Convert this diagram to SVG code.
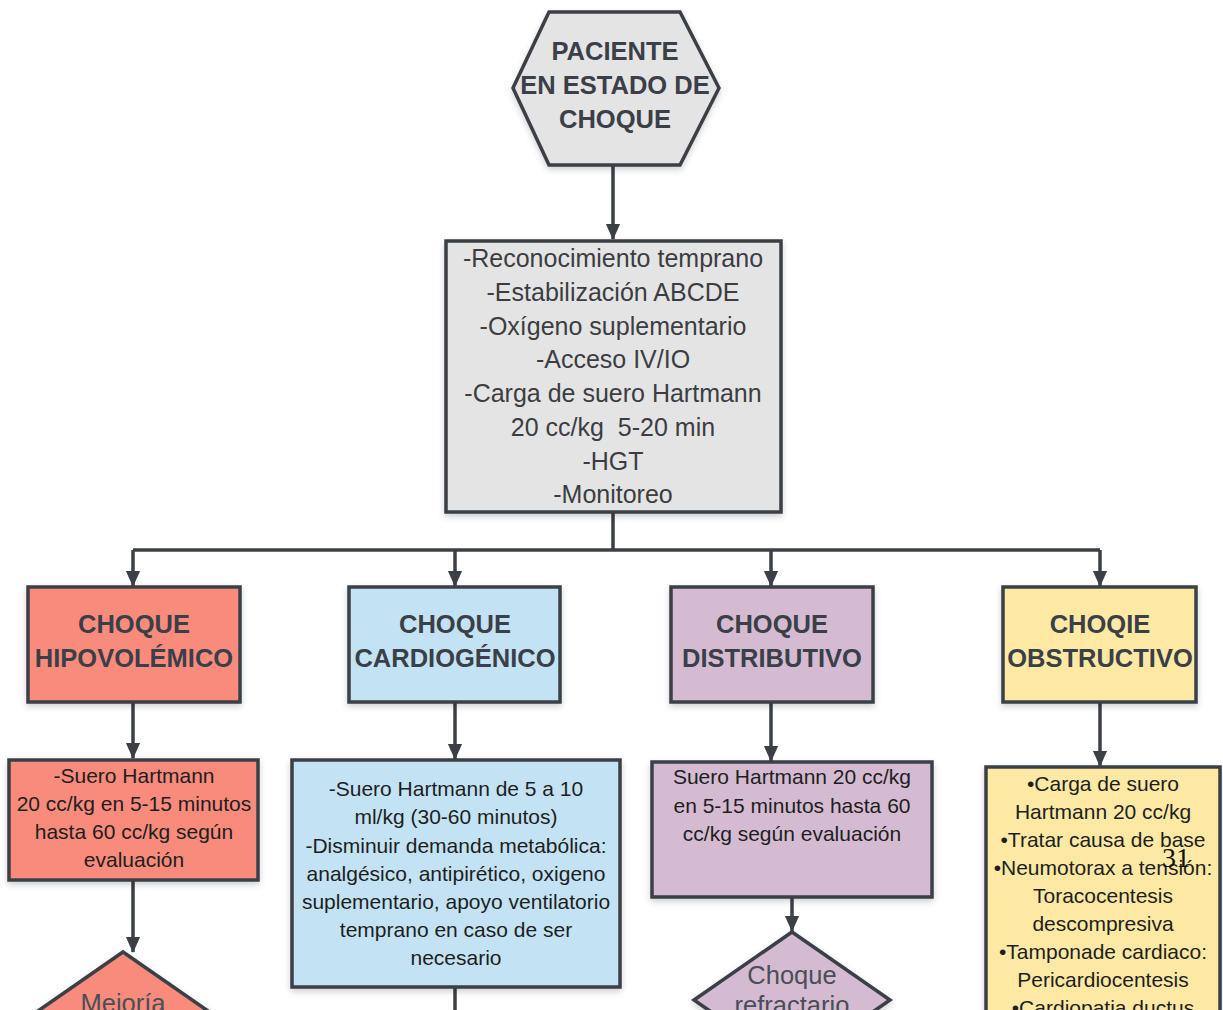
<svg xmlns="http://www.w3.org/2000/svg" width="1223" height="1010" viewBox="0 0 1223 1010">
  <defs>
    <marker id="head" markerUnits="userSpaceOnUse" markerWidth="16" markerHeight="16" refX="17" refY="8" orient="auto" viewBox="0 0 18 16">
      <path d="M0,0 L18,8 L0,16 Z" fill="#3b3f46"/>
    </marker>
    <filter id="shadow" x="-10%" y="-10%" width="120%" height="125%">
      <feDropShadow dx="0" dy="3" stdDeviation="3" flood-color="#000" flood-opacity="0.18"/>
    </filter>
  </defs>
  <style>
    .shape { stroke: #3b3f46; stroke-width: 3.5; filter: url(#shadow); }
    .grey { fill: #e4e4e4; }
    .red { fill: #f98b7b; }
    .blue { fill: #c3e3f5; }
    .purple { fill: #d4bbd2; }
    .yellow { fill: #fde9a4; }
    .title { font-family: "Liberation Sans", Arial, sans-serif; font-weight: bold; font-size: 25.5px; fill: #3a3f48; text-anchor: middle; dominant-baseline: central; }
    .main { font-family: "Liberation Sans", Arial, sans-serif; font-size: 25px; fill: #3b3d42; text-anchor: middle; dominant-baseline: central; }
    .body { font-family: "Liberation Sans", Arial, sans-serif; font-size: 21px; fill: #1e1e1e; text-anchor: middle; dominant-baseline: central; }
    .dia { font-family: "Liberation Sans", Arial, sans-serif; font-size: 25.5px; fill: #4a4e55; text-anchor: middle; dominant-baseline: central; }
    .link { stroke: #3b3f46; stroke-width: 3.5; fill: none; }
    .pagenum { font-family: "Liberation Serif", "Times New Roman", serif; font-size: 28px; fill: #111; }
  </style>

  <!-- connectors -->
  <g id="connectors">
    <path class="link" d="M613,165 V239" marker-end="url(#head)"/>
    <path class="link" d="M613,512 V550"/>
    <path class="link" d="M133,550 H1100"/>
    <path class="link" d="M133,550 V586" marker-end="url(#head)"/>
    <path class="link" d="M455,550 V586" marker-end="url(#head)"/>
    <path class="link" d="M771,550 V586" marker-end="url(#head)"/>
    <path class="link" d="M1100,550 V586" marker-end="url(#head)"/>
    <path class="link" d="M133,702 V758" marker-end="url(#head)"/>
    <path class="link" d="M455,702 V759" marker-end="url(#head)"/>
    <path class="link" d="M771,702 V761" marker-end="url(#head)"/>
    <path class="link" d="M1100,702 V766" marker-end="url(#head)"/>
    <path class="link" d="M133,880 V952" marker-end="url(#head)"/>
    <path class="link" d="M455,987 V1012"/>
    <path class="link" d="M792,897 V931" marker-end="url(#head)"/>
  </g>

  <!-- start node -->
  <g id="start">
    <polygon class="shape grey" points="549,12 680,12 719,88 680,165 549,165 513,88"/>
    <text class="title" x="615" y="51">PACIENTE</text>
    <text class="title" x="615" y="85">EN ESTADO DE</text>
    <text class="title" x="615" y="119">CHOQUE</text>
  </g>

  <!-- initial management -->
  <g id="initial">
    <rect class="shape grey" x="446" y="241" width="335" height="271"/>
    <text class="main" x="613" y="258">-Reconocimiento temprano</text>
    <text class="main" x="613" y="292">-Estabilización ABCDE</text>
    <text class="main" x="613" y="326">-Oxígeno suplementario</text>
    <text class="main" x="613" y="359">-Acceso IV/IO</text>
    <text class="main" x="613" y="393">-Carga de suero Hartmann</text>
    <text class="main" x="613" y="427" xml:space="preserve">20 cc/kg  5-20 min</text>
    <text class="main" x="613" y="461">-HGT</text>
    <text class="main" x="613" y="494">-Monitoreo</text>
  </g>

  <!-- shock types -->
  <g id="hipovolemico">
    <rect class="shape red" x="28" y="587" width="212" height="115"/>
    <text class="title" x="134" y="624">CHOQUE</text>
    <text class="title" x="134" y="658">HIPOVOLÉMICO</text>
  </g>
  <g id="cardiogenico">
    <rect class="shape blue" x="349" y="587" width="211" height="115"/>
    <text class="title" x="455" y="624">CHOQUE</text>
    <text class="title" x="455" y="658">CARDIOGÉNICO</text>
  </g>
  <g id="distributivo">
    <rect class="shape purple" x="671" y="587" width="202" height="115"/>
    <text class="title" x="772" y="624">CHOQUE</text>
    <text class="title" x="772" y="658">DISTRIBUTIVO</text>
  </g>
  <g id="obstructivo">
    <rect class="shape yellow" x="1003" y="587" width="193" height="115"/>
    <text class="title" x="1100" y="624">CHOQIE</text>
    <text class="title" x="1100" y="658">OBSTRUCTIVO</text>
  </g>

  <!-- treatments -->
  <g id="tx-hipovolemico">
    <rect class="shape red" x="9" y="760" width="249" height="120"/>
    <text class="body" x="134" y="775">-Suero Hartmann</text>
    <text class="body" x="134" y="803">20 cc/kg en 5-15 minutos</text>
    <text class="body" x="134" y="831">hasta 60 cc/kg según</text>
    <text class="body" x="134" y="859">evaluación</text>
  </g>
  <g id="tx-cardiogenico">
    <rect class="shape blue" x="292" y="760" width="328" height="227"/>
    <text class="body" x="456" y="788">-Suero Hartmann de 5 a 10</text>
    <text class="body" x="456" y="816">ml/kg (30-60 minutos)</text>
    <text class="body" x="456" y="845">-Disminuir demanda metabólica:</text>
    <text class="body" x="456" y="873">analgésico, antipirético, oxigeno</text>
    <text class="body" x="456" y="901">suplementario, apoyo ventilatorio</text>
    <text class="body" x="456" y="929">temprano en caso de ser</text>
    <text class="body" x="456" y="957">necesario</text>
  </g>
  <g id="tx-distributivo">
    <rect class="shape purple" x="652" y="762" width="280" height="135"/>
    <text class="body" x="792" y="776">Suero Hartmann 20 cc/kg</text>
    <text class="body" x="792" y="805">en 5-15 minutos hasta 60</text>
    <text class="body" x="792" y="833">cc/kg según evaluación</text>
  </g>
  <g id="tx-obstructivo">
    <rect class="shape yellow" x="986" y="767" width="234" height="260"/>
    <text class="body" x="1103" y="783">•Carga de suero</text>
    <text class="body" x="1103" y="811">Hartmann 20 cc/kg</text>
    <text class="body" x="1103" y="839">•Tratar causa de base</text>
    <text class="body" x="1103" y="867">•Neumotorax a tensión:</text>
    <text class="body" x="1103" y="895">Toracocentesis</text>
    <text class="body" x="1103" y="923">descompresiva</text>
    <text class="body" x="1103" y="951">•Tamponade cardiaco:</text>
    <text class="body" x="1103" y="979">Pericardiocentesis</text>
    <text class="body" x="1103" y="1007">•Cardiopatia ductus</text>
  </g>

  <!-- decision points -->
  <g id="mejoria">
    <polygon class="shape red" points="123,952 221,1020 123,1088 25,1020"/>
    <text class="dia" x="123" y="1003">Mejoría</text>
  </g>
  <g id="refractario">
    <polygon class="shape purple" points="792,932 890,1000 792,1068 694,1000"/>
    <text class="dia" x="792" y="975">Choque</text>
    <text class="dia" x="792" y="1005">refractario</text>
  </g>

  <text class="pagenum" x="1162" y="867">31</text>
</svg>
